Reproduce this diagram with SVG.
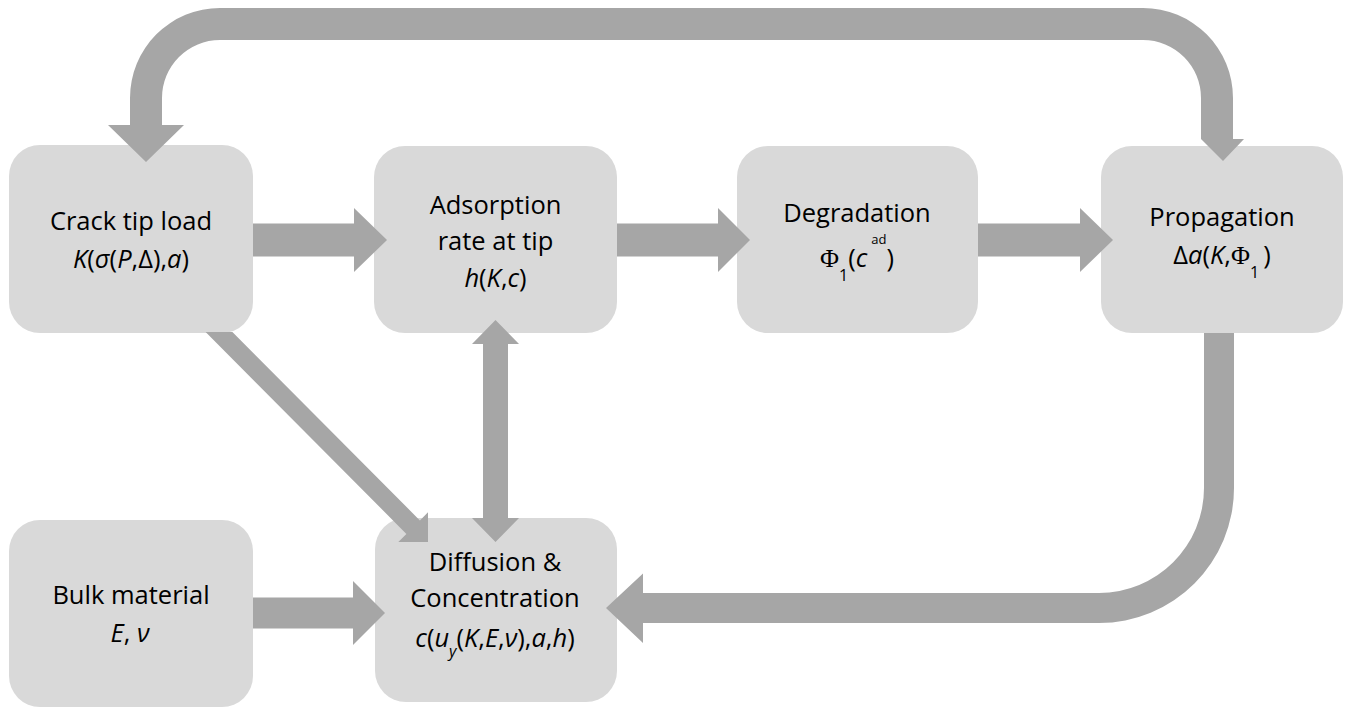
<svg xmlns="http://www.w3.org/2000/svg" width="1353" height="709" viewBox="0 0 1353 709">
<style>
.box{fill:#d9d9d9}
.arr{fill:#a6a6a6}
.t{font-family:"Open Sans","Liberation Sans",sans-serif;font-size:25.5px;fill:#000;text-anchor:middle}
.i{font-style:italic}
.g{font-family:"Liberation Serif",serif;font-size:26px}
.s{font-size:16px}
.sp{font-size:13px}
</style>
<rect width="1353" height="709" fill="#fff"/>
<g id="node-crack">
<rect class="box" x="9" y="145" width="244" height="188" rx="31"/>
<text class="t" x="131" y="230">Crack tip load</text>
<text class="t" x="131" y="268"><tspan class="i">K</tspan>(<tspan class="i">σ</tspan>(<tspan class="i">P</tspan>,Δ),<tspan class="i">a</tspan>)</text>
</g>
<g id="node-adsorption">
<rect class="box" x="374" y="146" width="243" height="187" rx="31"/>
<text class="t" x="495.5" y="214">Adsorption</text>
<text class="t" x="495.5" y="250">rate at tip</text>
<text class="t" x="495.5" y="287"><tspan class="i">h</tspan>(<tspan class="i">K</tspan>,<tspan class="i">c</tspan>)</text>
</g>
<g id="node-degradation">
<rect class="box" x="737" y="146" width="241" height="187" rx="31"/>
<text class="t" x="857" y="222">Degradation</text>
<text class="t" x="857" y="267"><tspan class="g">Φ</tspan><tspan class="s" dy="14">1</tspan><tspan dy="-14">(</tspan><tspan class="i">c</tspan><tspan class="sp" dx="4" dy="-23">ad</tspan><tspan dy="23">)</tspan></text>
</g>
<g id="node-propagation">
<rect class="box" x="1101" y="146" width="242" height="187" rx="31"/>
<text class="t" x="1222" y="226">Propagation</text>
<text class="t" x="1222" y="264">Δ<tspan class="i">a</tspan>(<tspan class="i">K</tspan>,<tspan class="g">Φ</tspan><tspan class="s" dy="14">1</tspan><tspan dy="-14" dx="4">)</tspan></text>
</g>
<g id="node-bulk">
<rect class="box" x="9" y="520" width="244" height="187" rx="31"/>
<text class="t" x="131" y="604">Bulk material</text>
<text class="t" x="130" y="642"><tspan class="i">E</tspan>, <tspan class="i">ν</tspan></text>
</g>
<g id="node-diffusion">
<rect class="box" x="375" y="518" width="242" height="184" rx="31"/>
<text class="t" x="495" y="571">Diffusion &amp;</text>
<text class="t" x="495" y="607">Concentration</text>
<text class="t" x="495" y="647"><tspan class="i">c</tspan>(<tspan class="i">u</tspan><tspan class="s i" dy="10">y</tspan><tspan dy="-10">(</tspan><tspan class="i">K</tspan>,<tspan class="i">E</tspan>,<tspan class="i">ν</tspan>),<tspan class="i">a</tspan>,<tspan class="i">h</tspan>)</text>
</g>
<g id="connectors">
<path class="arr" d="M108,125 L146,162 L184,125 L162,125 L162,98 A58,58 0 0 1 220,40 L1143,40 A58,58 0 0 1 1201,98 L1201,139 L1223,161 L1244,139 L1233,139 L1233,98 A90,90 0 0 0 1143,8 L220,8 A90,90 0 0 0 130,98 L130,125 Z"/>
<polygon class="arr" points="253,223.5 354,223.5 354,208 387,240 354,272 354,256.5 253,256.5"/>
<polygon class="arr" points="617,223.5 718,223.5 718,208 750,240 718,272 718,256.5 617,256.5"/>
<polygon class="arr" points="978,223.5 1080,223.5 1080,208 1113,240 1080,272 1080,256.5 978,256.5"/>
<polygon class="arr" points="253,597.5 353,597.5 353,581 385,613 353,645 353,628.5 253,628.5"/>
<polygon class="arr" points="205.6,332 232.4,332 419.9,520.4 428,512.3 428,542 398.3,542 406.4,533.9"/>
<polygon class="arr" points="495.5,320 519,344 508,344 508,518 519,518 495.5,542 472,518 483,518 483,344 472,344"/>
<path class="arr" d="M1204,333 L1234,333 L1234,488 A135,135 0 0 1 1099,623 L643,623 L643,643 L606,608 L643,573.5 L643,593 L1099,593 A105,105 0 0 0 1204,488 Z"/>
</g>
</svg>
